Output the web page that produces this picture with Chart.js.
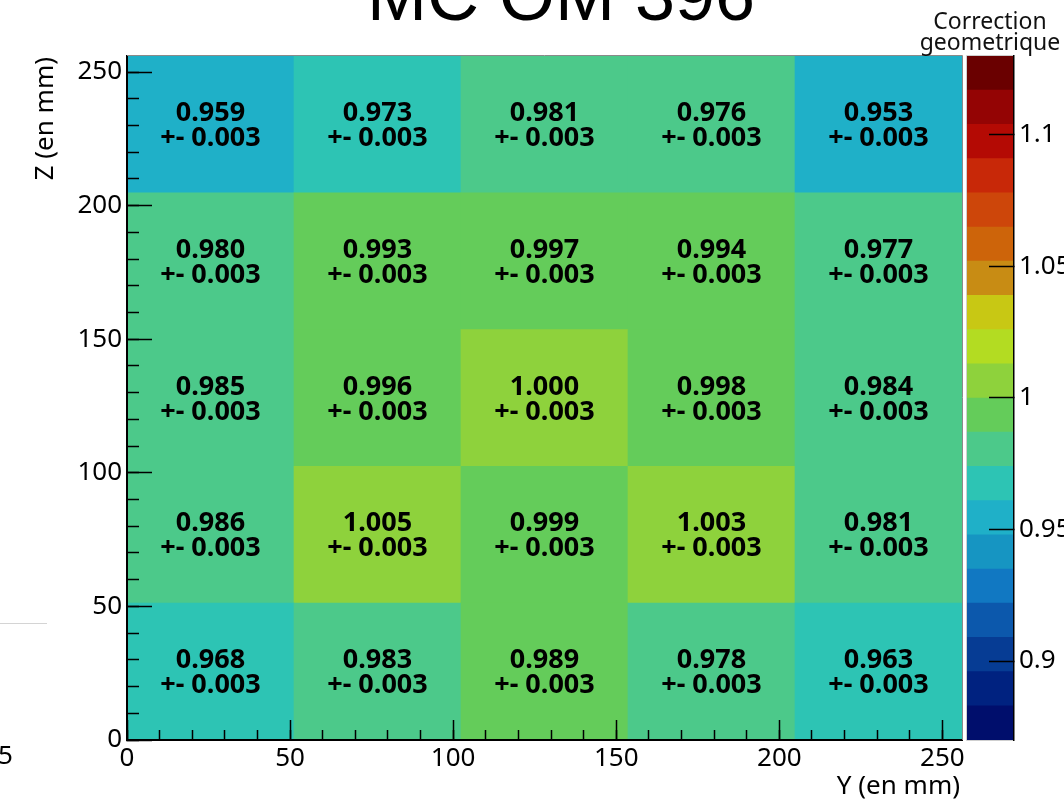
<!DOCTYPE html>
<html>
<head>
<meta charset="utf-8">
<title>MC OM 396</title>
<script src="https://cdn.jsdelivr.net/npm/chart.js@4/dist/chart.umd.min.js"></script>
<style>
  html, body { margin: 0; padding: 0; background: #ffffff; }
  #wrap { position: relative; width: 1064px; height: 800px; overflow: hidden; }
  #main { position: absolute; left: 0; top: 0; }
  #pal { position: absolute; left: 964px; top: 0; }
</style>
</head>
<body>
<div id="wrap">
  <canvas id="main" width="1064" height="800"></canvas>
  <canvas id="pal" width="100" height="800"></canvas>
</div>
<script>
// Y bins (mm) along the horizontal axis and Z bin edges (mm) along the vertical axis
const yBinLabels = ['0-51.2', '51.2-102.4', '102.4-153.6', '153.6-204.8', '204.8-256'];
const zEdges = [0, 51.2, 102.4, 153.6, 204.8, 256];

// Geometric correction per cell, one array per Z row (bottom to top)
const corrZ1 = [0.968, 0.983, 0.989, 0.978, 0.963];
const corrZ2 = [0.986, 1.005, 0.999, 1.003, 0.981];
const corrZ3 = [0.985, 0.996, 1.000, 0.998, 0.984];
const corrZ4 = [0.980, 0.993, 0.997, 0.994, 0.977];
const corrZ5 = [0.959, 0.973, 0.981, 0.976, 0.953];

// Statistical uncertainty per cell
const errZ1 = [0.003, 0.003, 0.003, 0.003, 0.003];
const errZ2 = [0.003, 0.003, 0.003, 0.003, 0.003];
const errZ3 = [0.003, 0.003, 0.003, 0.003, 0.003];
const errZ4 = [0.003, 0.003, 0.003, 0.003, 0.003];
const errZ5 = [0.003, 0.003, 0.003, 0.003, 0.003];

// Colour scale (contour levels between zMin and zMax)
const zMin = 0.87;
const zMax = 1.13;
const paletteColors = [
  '#000e6c', '#002280', '#063c94', '#0c58ac', '#1178c2',
  '#1695c2', '#1fb0c8', '#2dc4b4', '#4cc98a', '#64cc5a',
  '#8ed23c', '#b3dc22', '#c8c814', '#c88c14', '#cd640a',
  '#cd460a', '#c82808', '#b40a04', '#940404', '#6a0000'
];

const FONT = '"Noto Sans", "Open Sans", sans-serif';

function bandIndex(v) {
  const n = paletteColors.length;
  const i = Math.floor((v - zMin) / (zMax - zMin) * n + 1e-6);
  return Math.max(0, Math.min(n - 1, i));
}

const rows = [corrZ1, corrZ2, corrZ3, corrZ4, corrZ5];
const rowErrs = [errZ1, errZ2, errZ3, errZ4, errZ5];

const cellDatasets = rows.map((vals, r) => ({
  label: 'Z ' + zEdges[r] + '-' + zEdges[r + 1],
  data: vals.map(() => [zEdges[r], zEdges[r + 1]]),
  values: vals,
  errors: rowErrs[r],
  backgroundColor: vals.map(v => paletteColors[bandIndex(v)]),
  borderWidth: 0,
  barPercentage: 1,
  categoryPercentage: 1,
  grouped: false,
  xAxisID: 'x',
  yAxisID: 'y'
}));

// Cell value text: correction and its uncertainty
const cellText = {
  id: 'cellText',
  afterDatasetsDraw(chart) {
    const ctx = chart.ctx;
    ctx.save();
    ctx.fillStyle = '#000';
    ctx.font = 'bold 27px ' + FONT;
    ctx.textAlign = 'center';
    ctx.textBaseline = 'alphabetic';
    chart.data.datasets.forEach((ds, di) => {
      const meta = chart.getDatasetMeta(di);
      meta.data.forEach((bar, j) => {
        const cy = (bar.y + bar.base) / 2;
        ctx.fillText(ds.values[j].toFixed(3), bar.x, cy - 3.5);
        ctx.fillText('+- ' + ds.errors[j].toFixed(3), bar.x, cy + 21.5);
      });
    });
    ctx.restore();
  }
};

// Titles, frame and leftovers of the neighbouring pad
const decorations = {
  id: 'decorations',
  afterDraw(chart) {
    const ctx = chart.ctx;
    const a = chart.chartArea;
    ctx.save();
    // frame top / right
    ctx.strokeStyle = '#8a8a8a';
    ctx.lineWidth = 1;
    ctx.beginPath();
    ctx.moveTo(a.left, a.top - 0.5);
    ctx.lineTo(a.right + 0.5, a.top - 0.5);
    ctx.lineTo(a.right + 0.5, a.bottom);
    ctx.stroke();

    // main title
    ctx.fillStyle = '#000';
    ctx.font = '72px "Liberation Sans", Arial, sans-serif';
    ctx.textAlign = 'center';
    ctx.textBaseline = 'alphabetic';
    ctx.fillText('MC OM 396', 561, 20);

    // axis titles
    ctx.font = '26px ' + FONT;
    ctx.textAlign = 'right';
    ctx.fillText('Y (en mm)', 960, 794);

    ctx.save();
    ctx.translate(46, 57);
    ctx.rotate(-Math.PI / 2);
    ctx.textAlign = 'right';
    ctx.textBaseline = 'middle';
    ctx.fillText('Z (en mm)', 0, 0);
    ctx.restore();

    // colour scale title
    ctx.font = '23px ' + FONT;
    ctx.textAlign = 'center';
    ctx.fillStyle = '#111';
    ctx.fillText('Correction', 990, 29);
    ctx.fillText('geometrique', 990, 50);

    // pieces of the adjacent pad
    ctx.fillStyle = '#000';
    ctx.font = '26px ' + FONT;
    ctx.textAlign = 'left';
    ctx.fillText('5', -2, 764);
    ctx.strokeStyle = '#d4d4d4';
    ctx.beginPath();
    ctx.moveTo(0, 623.5);
    ctx.lineTo(47, 623.5);
    ctx.stroke();
    ctx.restore();
  }
};

const tickFont = { family: FONT, size: 26 };

new Chart(document.getElementById('main'), {
  type: 'bar',
  data: { labels: yBinLabels, datasets: cellDatasets },
  options: {
    responsive: false,
    animation: false,
    layout: { padding: { left: 0, top: 56, right: 102, bottom: 0 } },
    plugins: { legend: { display: false }, tooltip: { enabled: false }, title: { display: false } },
    scales: {
      x: { type: 'category', display: false, offset: true },
      xm: {
        type: 'linear', position: 'bottom', weight: 0, min: 0, max: 256, offset: false,
        afterFit(s) { s.height = 0; },
        ticks: { stepSize: 10, includeBounds: false, display: false },
        grid: { z: 1, drawOnChartArea: false, offset: false, tickLength: -10, tickColor: '#000', tickWidth: 1.5 },
        border: { display: false }
      },
      xl: {
        type: 'linear', position: 'bottom', weight: 1, min: 0, max: 256, offset: false,
        afterFit(s) { s.height = 60; },
        ticks: { stepSize: 50, includeBounds: false, autoSkip: false, maxRotation: 0, padding: 23, color: '#000', font: tickFont },
        grid: { z: 1, drawOnChartArea: false, offset: false, tickLength: -20, tickColor: '#000', tickWidth: 1.5 },
        border: { z: 1, display: true, color: '#000', width: 2 }
      },
      y: {
        type: 'linear', position: 'left', weight: 1, min: 0, max: 256,
        afterFit(s) { s.width = 127; },
        ticks: { stepSize: 50, includeBounds: false, autoSkip: false, padding: 30, color: '#000', font: tickFont },
        grid: { z: 1, drawOnChartArea: false, tickLength: -25, tickColor: '#000', tickWidth: 1.5 },
        border: { z: 1, display: true, color: '#000', width: 2 }
      },
      ym: {
        type: 'linear', position: 'left', weight: 0, min: 0, max: 256,
        afterFit(s) { s.width = 0; },
        ticks: { stepSize: 10, includeBounds: false, display: false },
        grid: { z: 1, drawOnChartArea: false, tickLength: -12, tickColor: '#000', tickWidth: 1.5 },
        border: { display: false }
      }
    }
  },
  plugins: [cellText, decorations]
});

// Colour scale drawn as stacked contour bands on its own axis
const bandWidth = (zMax - zMin) / paletteColors.length;
const paletteDatasets = paletteColors.map((c, i) => ({
  label: 'band ' + i,
  data: [[zMin + i * bandWidth, zMin + (i + 1) * bandWidth]],
  backgroundColor: c,
  borderWidth: 0,
  barPercentage: 1,
  categoryPercentage: 1,
  grouped: false
}));

const paletteFrame = {
  id: 'paletteFrame',
  afterDatasetsDraw(chart) {
    const ctx = chart.ctx;
    const a = chart.chartArea;
    ctx.save();
    ctx.strokeStyle = '#cfcfcf';
    ctx.lineWidth = 1;
    ctx.beginPath();
    ctx.moveTo(a.right, a.top - 0.5);
    ctx.lineTo(a.left - 0.5, a.top - 0.5);
    ctx.lineTo(a.left - 0.5, a.bottom + 0.5);
    ctx.lineTo(a.right, a.bottom + 0.5);
    ctx.stroke();
    ctx.restore();
  }
};

new Chart(document.getElementById('pal'), {
  type: 'bar',
  data: { labels: [''], datasets: paletteDatasets },
  options: {
    responsive: false,
    animation: false,
    layout: { padding: { left: 3, top: 56, right: 0, bottom: 60 } },
    plugins: { legend: { display: false }, tooltip: { enabled: false } },
    scales: {
      x: { type: 'category', display: false, offset: true },
      y: {
        type: 'linear', position: 'right', min: zMin, max: zMax,
        afterFit(s) { s.width = 50; },
        ticks: {
          stepSize: 0.05, includeBounds: false, autoSkip: false, padding: 30, color: '#000', font: tickFont,
          callback: v => String(Number(v.toFixed(2)))
        },
        grid: { z: 1, drawOnChartArea: false, tickLength: -25, tickColor: '#000', tickWidth: 1.5 },
        border: { z: 1, display: true, color: '#000', width: 1.5 }
      }
    }
  },
  plugins: [paletteFrame]
});
</script>
</body>
</html>
